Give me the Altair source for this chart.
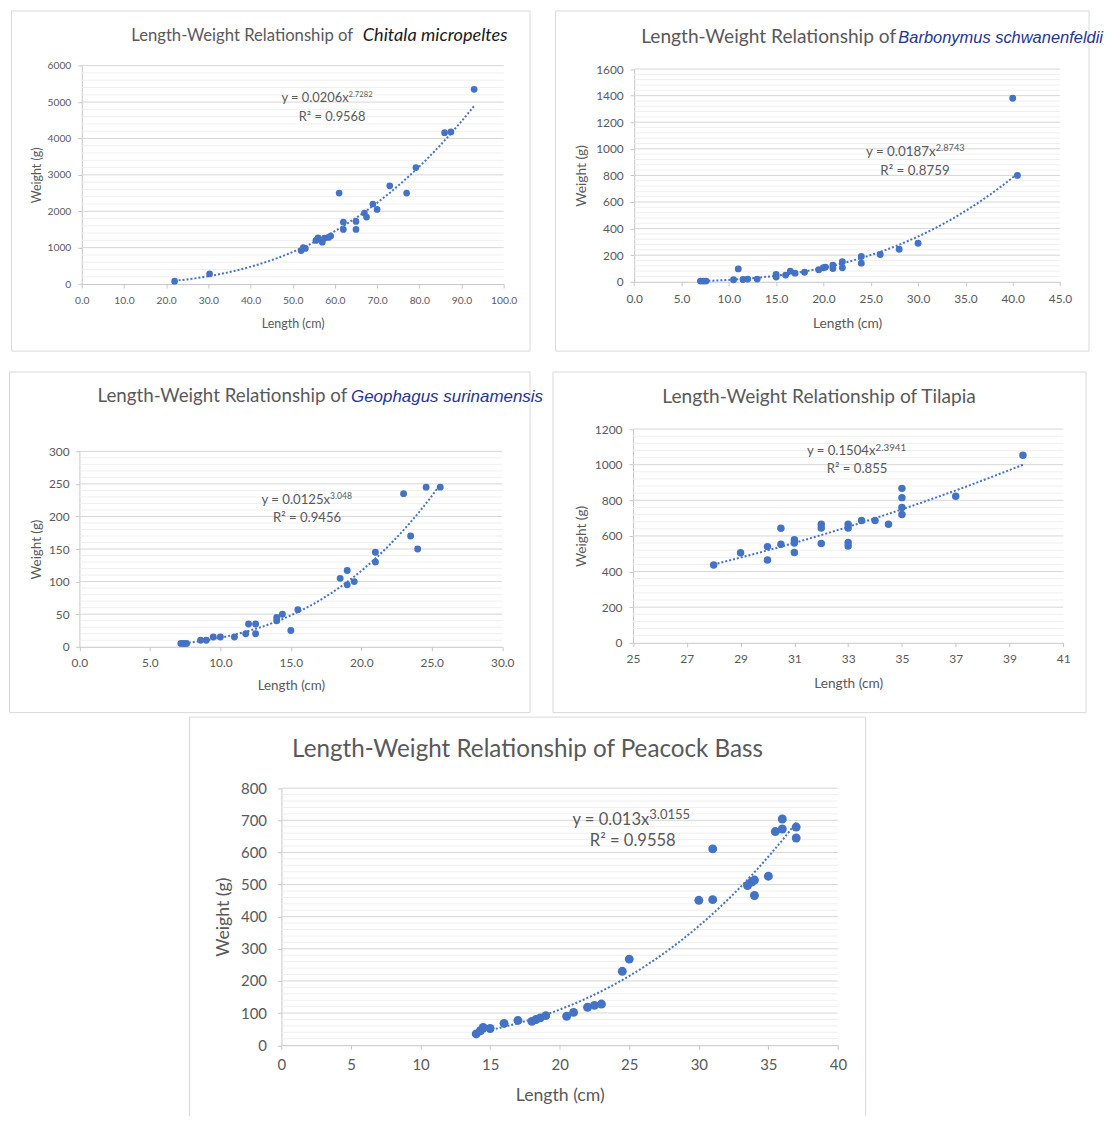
import altair as alt
import pandas as pd

# ---------------- data ----------------
chitala_len = [22, 30.3, 52, 52.5, 53, 55.5, 56, 57, 57.5, 58.5, 59, 61, 62, 62, 65, 65,
               67, 67.5, 69, 70, 73, 77, 79.2, 86, 87.5, 93]
chitala_wt = [80, 280, 920, 1000, 980, 1200, 1270, 1150, 1260, 1280, 1320, 2500, 1700, 1500,
              1720, 1500, 1950, 1840, 2200, 2050, 2700, 2500, 3200, 4160, 4180, 5350]

barb_len = [7.0, 7.3, 7.6, 10.5, 11, 11.5, 12, 13, 15, 15, 16, 16.5, 17, 18, 19.5, 20, 20.2,
            21, 21, 22, 22, 24, 24, 26, 28, 30, 40, 40.5]
barb_wt = [5, 5, 5, 15, 97, 17, 20, 20, 35, 55, 50, 80, 65, 72, 90, 105, 110, 100, 125, 105,
           150, 190, 140, 205, 245, 290, 1380, 800]

geo_len = [7.2, 7.4, 7.6, 8.6, 9.0, 9.5, 10, 11, 11.8, 12, 12.5, 12.5, 14, 14, 14.4, 15, 15.5,
           18.5, 19, 19, 19.5, 21, 21, 23, 23.5, 24, 24.6, 25.6]
geo_wt = [5, 5, 5, 10, 10, 15, 15, 15, 20, 35, 35, 20, 40, 45, 50, 25, 57, 105, 117, 95, 100,
          145, 130, 235, 170, 150, 245, 245]

til_len = [28, 29, 30, 30, 30.5, 30.5, 31, 31, 31, 32, 32, 32, 33, 33, 33, 33, 33.5, 34, 34.5,
           35, 35, 35, 35, 37, 39.5]
til_wt = [437, 505, 540, 465, 643, 553, 578, 560, 507, 665, 645, 558, 665, 645, 563, 543, 687,
          687, 665, 867, 815, 760, 720, 823, 1053]

pb_len = [14, 14.3, 14.5, 15, 16, 17, 18, 18.3, 18.6, 19, 20.5, 21, 22, 22.5, 23, 24.5, 25, 30,
          31, 31, 33.5, 33.8, 34, 34, 35, 35.5, 36, 36, 37, 37]
pb_wt = [35, 45, 55, 52, 68, 77, 74, 80, 85, 92, 90, 102, 118, 124, 128, 230, 268, 451, 453,
         611, 497, 508, 514, 466, 526, 665, 673, 704, 679, 645]

# axis tick values
chitala_xticks = [0, 10, 20, 30, 40, 50, 60, 70, 80, 90, 100]
chitala_yticks = [0, 1000, 2000, 3000, 4000, 5000, 6000]
barb_xticks = [0, 5, 10, 15, 20, 25, 30, 35, 40, 45]
barb_yticks = [0, 200, 400, 600, 800, 1000, 1200, 1400, 1600]
geo_xticks = [0, 5, 10, 15, 20, 25, 30]
geo_yticks = [0, 50, 100, 150, 200, 250, 300]
til_xticks = [25, 27, 29, 31, 33, 35, 37, 39, 41]
til_yticks = [0, 200, 400, 600, 800, 1000, 1200]
pb_xticks = [0, 5, 10, 15, 20, 25, 30, 35, 40]
pb_yticks = [0, 100, 200, 300, 400, 500, 600, 700, 800]


def minor_ticks(top, step, major):
    return [v for v in range(0, top + 1, step) if v % major != 0]


BLUE = "#4472C4"
GRAY = "#595959"
BORDER = "#d9d9d9"
MINOR = "#efefef"
MAJOR = "#d6d6d6"
AXIS = "#c6c6c6"
NAVY = "#1f3494"
FONT = "Lato"

panels = [
    dict(xs=chitala_len, ys=chitala_wt, xdom=[0, 100], ydom=[0, 6000],
         xticks=chitala_xticks, yticks=chitala_yticks, xfmt=".1f",
         minor=minor_ticks(6000, 200, 1000),
         plot=(81, 63.3, 423, 219), box=(8, 8, 531, 350), border=(10.5, 8.5, 530.5, 349.5),
         lab=10.3, ttl=12.5, xpad=7.5, ypad=7, xtitle=322.3, ytitle=36, size=45,
         texts=[
             ("Length-Weight Relationship of", 353, 39, 16.7, "right", FONT, "normal", GRAY),
             ("Chitala micropeltes", 362.7, 39, 18.2, "left", FONT, "italic", "#1a1a1a"),
             ("y = 0.0206x", 348.5, 100, 12.9, "right", FONT, "normal", GRAY),
             ("2.7282", 348.5, 95, 7.7, "left", FONT, "normal", GRAY),
             ("R² = 0.9568", 332, 119, 12.9, "center", FONT, "normal", GRAY),
         ]),
    dict(xs=barb_len, ys=barb_wt, xdom=[0, 45], ydom=[0, 1600],
         xticks=barb_xticks, yticks=barb_yticks, xfmt=".1f",
         minor=minor_ticks(1600, 40, 200),
         plot=(632.9, 66.7, 427, 213.3), box=(553.5, 8, 1089.5, 350), border=(554, 8.5, 1089, 349.5),
         lab=11.9, ttl=13.8, xpad=7.3, ypad=7, xtitle=321.7, ytitle=580.5, size=48,
         texts=[
             ("Length-Weight Relationship of", 895.6, 40.7, 19.2, "right", FONT, "normal", GRAY),
             ("Barbonymus schwanenfeldii", 1103, 40.7, 16.5, "right", "Liberation Sans", "italic", NAVY),
             ("y = 0.0187x", 935.2, 154, 13.4, "right", FONT, "normal", GRAY),
             ("2.8743", 935.2, 149, 9.3, "left", FONT, "normal", GRAY),
             ("R² = 0.8759", 914.5, 172.7, 13.4, "center", FONT, "normal", GRAY),
         ]),
    dict(xs=geo_len, ys=geo_wt, xdom=[0, 30], ydom=[0, 300],
         xticks=geo_xticks, yticks=geo_yticks, xfmt=".1f",
         minor=minor_ticks(300, 10, 50),
         plot=(78.6, 448, 424, 196), box=(8, 368, 531, 710.5), border=(8.5, 368.5, 530.5, 710),
         lab=11.9, ttl=13.4, xpad=6.3, ypad=6.3, xtitle=683, ytitle=35.5, size=48,
         texts=[
             ("Length-Weight Relationship of", 347.2, 398.7, 18.8, "right", FONT, "normal", GRAY),
             ("Geophagus surinamensis", 543.5, 398.7, 17, "right", "Liberation Sans", "italic", NAVY),
             ("y = 0.0125x", 330, 500.7, 13.2, "right", FONT, "normal", GRAY),
             ("3.048", 330, 496.3, 8.6, "left", FONT, "normal", GRAY),
             ("R² = 0.9456", 306.9, 518.6, 13.2, "center", FONT, "normal", GRAY),
         ]),
    dict(xs=til_len, ys=til_wt, xdom=[25, 41], ydom=[0, 1200],
         xticks=til_xticks, yticks=til_yticks, xfmt="d",
         minor=minor_ticks(1200, 40, 200),
         plot=(632.2, 425.7, 431.5, 214.3), box=(551.5, 368, 1087, 710.5), border=(552, 368.5, 1086.5, 710),
         lab=12, ttl=13.7, xpad=6.8, ypad=7, xtitle=681.3, ytitle=580.3, size=56,
         texts=[
             ("Length-Weight Relationship of Tilapia", 818.8, 399.7, 19.2, "center", FONT, "normal", GRAY),
             ("y = 0.1504x", 875.4, 452, 13.2, "right", FONT, "normal", GRAY),
             ("2.3941", 875.4, 447.3, 9.8, "left", FONT, "normal", GRAY),
             ("R² = 0.855", 857, 470, 13.2, "center", FONT, "normal", GRAY),
         ]),
    dict(xs=pb_len, ys=pb_wt, xdom=[0, 40], ydom=[0, 800],
         xticks=pb_xticks, yticks=pb_yticks, xfmt="d",
         minor=minor_ticks(800, 20, 100),
         plot=(281.2, 784.3, 558, 257.7), box=(8, 712.5, 867.5, 1113), rules=(189, 713, 867, 1113),
         lab=15, ttl=17.7, xpad=8.7, ypad=11, xtitle=1092, ytitle=222.7, size=80,
         texts=[
             ("Length-Weight Relationship of Peacock Bass", 528, 752.7, 24.3, "center", FONT, "normal", GRAY),
             ("y = 0.013x", 650, 821.5, 16.6, "right", FONT, "normal", GRAY),
             ("3.0155", 650, 815.5, 13.1, "left", FONT, "normal", GRAY),
             ("R² = 0.9558", 633.5, 842.7, 16.6, "center", FONT, "normal", GRAY),
         ]),
]


def make_panel(p):
    bl, bt, br, bb = p["box"]
    W, H = br - bl, bb - bt
    px0, py0, pw, ph = p["plot"]
    rl, rr = px0 - bl, px0 + pw - bl          # plot area inside the panel (pixels)
    rt, rb = py0 - bt, py0 + ph - bt

    one = pd.DataFrame({"k": [0]})
    df = pd.DataFrame({"Length": p["xs"], "Weight": p["ys"]})
    xaxis = alt.Axis(values=p["xticks"], format=p["xfmt"], grid=False, title="Length (cm)",
                     labelFontSize=p["lab"], titleFontSize=p["ttl"], tickSize=4,
                     labelPadding=p["xpad"], offset=rb - H,
                     titleY=p["xtitle"] - (py0 + ph), titleBaseline="middle",
                     labelFlush=False, labelOverlap=False)
    yaxis = alt.Axis(values=p["yticks"], format="d", grid=False, title="Weight (g)",
                     labelFontSize=p["lab"], titleFontSize=p["ttl"], tickSize=4,
                     labelPadding=p["ypad"], offset=-rl,
                     titleX=p["ytitle"] - px0, titleBaseline="middle",
                     labelFlush=False, labelOverlap=False)
    X = alt.X("Length:Q", scale=alt.Scale(domain=p["xdom"], range=[rl, rr], nice=False, zero=False),
              axis=xaxis)
    Y = alt.Y("Weight:Q", scale=alt.Scale(domain=p["ydom"], range=[rb, rt], nice=False),
              axis=yaxis)

    layers = [
        alt.Chart(one).mark_rect(opacity=0).encode(
            x=alt.value(0), x2=alt.value(W), y=alt.value(0), y2=alt.value(H))
    ]
    if "border" in p:
        l, t, r, b = p["border"]
        layers.append(alt.Chart(one).mark_rect(fillOpacity=0, stroke=BORDER, strokeWidth=1).encode(
            x=alt.value(l - bl), x2=alt.value(r - bl), y=alt.value(t - bt), y2=alt.value(b - bt)))
    if "rules" in p:
        l, t, r, b = p["rules"]
        layers.append(alt.Chart(one).mark_rule(color=BORDER, strokeWidth=1).encode(
            x=alt.value(l - bl), y=alt.value(t - bt), y2=alt.value(b - bt)))
        layers.append(alt.Chart(one).mark_rule(color=BORDER, strokeWidth=1).encode(
            x=alt.value(r - bl), y=alt.value(t - bt), y2=alt.value(b - bt)))
        layers.append(alt.Chart(one).mark_rule(color=BORDER, strokeWidth=1).encode(
            x=alt.value(l - bl), x2=alt.value(r - bl), y=alt.value(t - bt)))

    # minor and major horizontal gridlines, spanning the plot area only
    layers.append(alt.Chart(pd.DataFrame({"Weight": p["minor"]})).mark_rule(
        color=MINOR, strokeWidth=1).encode(y=Y, x=alt.value(rl), x2=alt.value(rr)))
    layers.append(alt.Chart(pd.DataFrame({"Weight": p["yticks"][1:]})).mark_rule(
        color=MAJOR, strokeWidth=1).encode(y=Y, x=alt.value(rl), x2=alt.value(rr)))

    layers.append(alt.Chart(df).mark_circle(size=p["size"], color=BLUE, opacity=1).encode(x=X, y=Y))
    layers.append(alt.Chart(df).transform_regression("Length", "Weight", method="pow").mark_line(
        color=BLUE, strokeDash=[2, 2], strokeWidth=2).encode(x=X, y=Y))

    for (s, tx, ty, size, align, font, style, color) in p["texts"]:
        layers.append(alt.Chart(pd.DataFrame({"t": [s]})).mark_text(
            align=align, baseline="alphabetic", fontSize=size, font=font,
            fontStyle=style, color=color).encode(
            text="t:N", x=alt.value(tx - bl), y=alt.value(ty - bt)))

    return alt.layer(*layers).properties(width=W, height=H)


P = [make_panel(p) for p in panels]
row1 = alt.hconcat(P[0], P[1], spacing=22.5)
row2 = alt.hconcat(P[2], P[3], spacing=8)
top = alt.vconcat(row1, row2, spacing=18)

chart = alt.vconcat(top, P[4], spacing=2).properties(padding=0).configure_axis(
    domainColor=AXIS, tickColor=AXIS,
    labelColor=GRAY, titleColor=GRAY, titleFontWeight="normal",
    labelFont=FONT, titleFont=FONT
).configure_view(stroke="transparent")

chart.save("out.html", embed_options={"renderer": "svg", "actions": False})
